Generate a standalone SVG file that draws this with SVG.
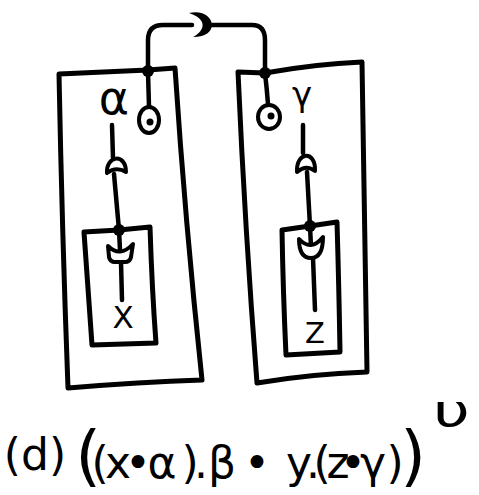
<svg xmlns="http://www.w3.org/2000/svg" width="479" height="495" viewBox="0 0 479 495">
<style>
.ln{fill:none;stroke:#000;stroke-width:4.5;stroke-linecap:round;stroke-linejoin:round}
.bx{fill:none;stroke:#000;stroke-width:5;stroke-linejoin:round}
.sym{fill:#fff;stroke:#000;stroke-width:4;stroke-linejoin:round}
.dot{fill:#000}
.lbl{font-family:"DejaVu Sans",sans-serif;fill:#000;text-anchor:middle}
.cap{font-family:"DejaVu Sans",sans-serif;fill:#000;text-anchor:middle;font-size:44px}
</style>
<rect width="479" height="495" fill="#fff"/>
<g id="box-left"><path class="bx" d="M59,74 Q105,72 148,70 L175,68 Q185,220 202,380 Q140,382 68,388 Q62,230 59,74 Z"/></g>
<g id="box-right"><path class="bx" d="M238,72 L265,73 Q315,64 362,62 Q365,220 367,372 Q310,374 257,383 Q245,230 238,72 Z"/></g>
<g id="box-left-inner"><path class="bx" d="M84,232 L119,230 L150,227 Q152,290 156,343 L92,345 Q88,290 84,232 Z"/></g>
<g id="box-right-inner"><path class="bx" d="M282,230 L310,226 L337,222 Q339,290 340,352 L286,355 Q283,290 282,230 Z"/></g>
<g id="connectors">
<path class="ln" d="M148,72 L148,40 Q148,25 163,25 L192,25"/>
<path class="ln" d="M210,25 L252,25 Q265,25 265,40 L265,73"/>
<path class="ln" d="M148,72 L149,107"/>
<path class="ln" d="M265,73 Q267,90 268,104"/>
<path class="ln" d="M112,125 L113,158"/>
<path class="ln" d="M114,174 L119,230"/>
<path class="ln" d="M303,125 L303,153"/>
<path class="ln" d="M307,172 L310,226"/>
<path class="ln" d="M119,230 L120,250"/>
<path class="ln" d="M121,262 L122,300"/>
<path class="ln" d="M310,226 L311,247"/>
<path class="ln" d="M313,258 L315,310"/>
</g>
<g id="crescent-top"><path class="dot" d="M189,13 C214,7 223,37 193,37 C206,30 207,19 189,13 Z"/></g>
<g id="dome-left"><path class="sym" d="M107,173 C106,155 126,153 126,172 Q116,166 107,173 Z"/></g>
<g id="dome-right"><path class="sym" d="M297,172 C296,151 316,150 315,171 Q306,164 297,172 Z"/></g>
<g id="cup-left"><path class="sym" d="M108,246 Q120,258 133,244 L131,257 Q130,262 125,262 L115,262 Q110,262 109,257 Z"/></g>
<g id="cup-right"><path class="sym" d="M299,239 Q299,258 311,258 Q323,258 323,237 Q311,252 299,239 Z"/></g>
<g id="junctions">
<circle class="dot" cx="148" cy="71" r="6"/>
<circle class="dot" cx="265" cy="73" r="6"/>
<circle class="dot" cx="119" cy="230" r="6"/>
<circle class="dot" cx="310" cy="226" r="6"/>
</g>
<g id="unit-left"><ellipse class="sym" cx="149" cy="120" rx="10" ry="13" stroke-width="4.5"/><circle class="dot" cx="150" cy="122" r="3.5"/></g>
<g id="unit-right"><ellipse class="sym" cx="269" cy="117" rx="11" ry="12" stroke-width="4.5"/><circle class="dot" cx="271" cy="116" r="3.5"/></g>
<g id="labels">
<text class="lbl" x="114" y="114" font-size="46">α</text>
<text class="lbl" x="302" y="106" font-size="34">γ</text>
<text class="lbl" x="123" y="328" font-size="31">X</text>
<text class="lbl" x="315" y="343" font-size="29">Z</text>
</g>
<g id="caption">
<text class="cap" x="35" y="470" font-size="38">(d)</text>
<text class="cap"><tspan x="88" y="478" font-size="66">(</tspan><tspan x="100" y="478">(</tspan><tspan x="118" y="478">x</tspan><tspan x="138" y="478">•</tspan><tspan x="162" y="478">α</tspan><tspan x="190" y="478">)</tspan><tspan x="201" y="478">.</tspan><tspan x="222" y="478">β</tspan><tspan x="257" y="478">•</tspan><tspan x="299" y="478">y</tspan><tspan x="313" y="478">.</tspan><tspan x="322" y="478">(</tspan><tspan x="338" y="478">z</tspan><tspan x="353" y="478">•</tspan><tspan x="373" y="478">γ</tspan><tspan x="395" y="478">)</tspan><tspan x="413" y="478" font-size="66">)</tspan></text>
<text class="cap" x="433" y="426" font-size="22" textLength="37" lengthAdjust="spacingAndGlyphs" style="text-anchor:start">υ</text>
</g>
</svg>
